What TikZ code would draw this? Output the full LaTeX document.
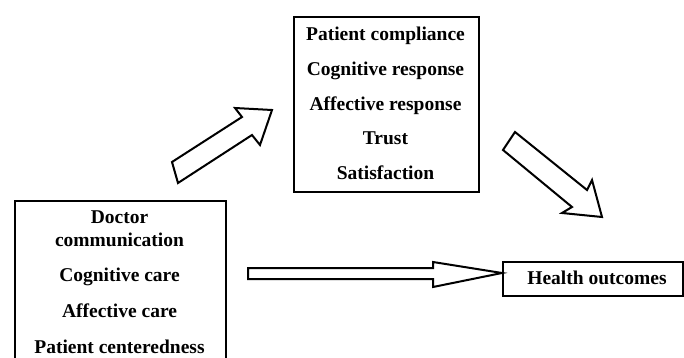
\documentclass[tikz,border=0pt]{standalone}
\usepackage{fontspec}
\setmainfont{Liberation Serif}
\begin{document}
\begin{tikzpicture}[x=1pt,y=-1pt,
  frame/.style={draw=black, line width=2.2pt, fill=white, inner sep=0pt},
  lbl/.style={font=\bfseries\fontsize{19.5}{23}\selectfont, anchor=base, inner sep=0pt},
  blockarrow/.style={draw=black, line width=2pt, fill=white, line join=miter}]
\useasboundingbox (0,0) rectangle (684,358);
\clip (0,0) rectangle (684,358);
% boxes
\node[frame, minimum width=211pt, minimum height=200pt, anchor=north west] (docbox) at (14,200) {};
\node[frame, minimum width=185pt, minimum height=175pt, anchor=north west] (patbox) at (293,16) {};
\node[frame, minimum width=180pt, minimum height=34pt, anchor=north west] (healthbox) at (502,261) {};
% left box text
\node[lbl] (t1) at (119.5,223) {Doctor};
\node[lbl] (t2) at (119.5,246) {communication};
\node[lbl] (t3) at (119.5,281) {Cognitive care};
\node[lbl] (t4) at (119.5,317) {Affective care};
\node[lbl] (t5) at (119.5,353) {Patient centeredness};
% top box text
\node[lbl] (p1) at (385.5,41) {Patient compliance};
\node[lbl] (p2) at (385.5,76) {Cognitive response};
\node[lbl] (p3) at (385.5,111) {Affective response};
\node[lbl] (p4) at (385.5,145) {Trust};
\node[lbl] (p5) at (385.5,179) {Satisfaction};
% health outcomes
\node[lbl] (h1) at (597,284) {Health outcomes};
% block arrows
\draw[blockarrow] (172,162) -- (242,117) -- (235,108) -- (272,110) -- (260,145) -- (252,135) -- (178,183) -- cycle;
\draw[blockarrow] (515,132) -- (587,190) -- (592,180) -- (602,217) -- (562,213) -- (572,207) -- (503,150) -- cycle;
\draw[blockarrow] (248,268) -- (433,268) -- (433,262) -- (healthbox.west |- 0,273) -- (433,287) -- (433,279) -- (248,279) -- cycle;
\end{tikzpicture}
\end{document}
